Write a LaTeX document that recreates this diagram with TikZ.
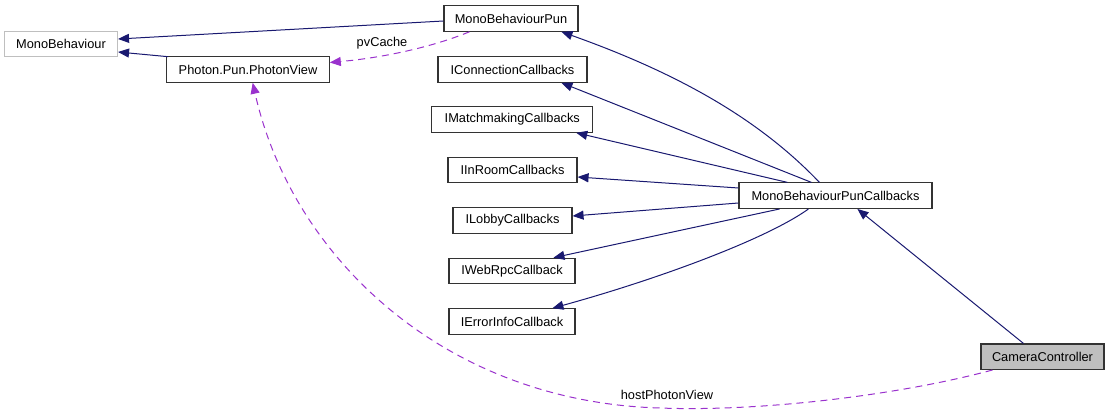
\documentclass[tikz,border=0pt]{standalone}
\usepackage{fontspec}
\setmainfont{Liberation Sans}
\usetikzlibrary{arrows.meta,calc}
\definecolor{navy}{HTML}{191970}
\definecolor{orchid}{HTML}{9A32CD}
\definecolor{boxgray}{HTML}{BFBFBF}
\definecolor{edgegray}{HTML}{333333}
\begin{document}
\begin{tikzpicture}[x=1pt,y=-1pt,
  cls/.style={draw=edgegray,line width=1.1pt,fill=white,inner sep=0pt,minimum height=25.5pt,font=\fontsize{12.8}{15}\selectfont},
  inh/.style={navy,line width=1pt,-{Triangle[length=11pt,width=9pt]}},
  uses/.style={orchid,line width=1pt,dash pattern=on 7pt off 5pt,-{Triangle[length=11pt,width=9pt]}},
  lbl/.style={font=\fontsize{12.8}{15}\selectfont,inner sep=0pt}]
\useasboundingbox (0,0) rectangle (1109,414);

% nodes
\node[cls,draw=boxgray,minimum width=113pt] (mb) at (61,44) {MonoBehaviour};
\node[cls,minimum width=134pt] (mbp) at (511,18.5) {MonoBehaviourPun};
\node[cls,minimum width=162.5pt] (pv) at (248,69.5) {Photon.Pun.PhotonView};
\node[cls,minimum width=149pt] (icc) at (512.5,69.5) {IConnectionCallbacks};
\node[cls,minimum width=161pt] (imm) at (512.3,119.5) {IMatchmakingCallbacks};
\node[cls,minimum width=129pt] (iir) at (512.5,170) {IInRoomCallbacks};
\node[cls,minimum width=119pt] (ilb) at (512.5,220.5) {ILobbyCallbacks};
\node[cls,minimum width=126pt] (iwr) at (512,271) {IWebRpcCallback};
\node[cls,minimum width=126pt] (iei) at (512,321.5) {IErrorInfoCallback};
\node[cls,minimum width=193pt] (mbpc) at (835.5,195.7) {MonoBehaviourPunCallbacks};
\node[cls,fill=boxgray,minimum width=123pt] (cc) at (1042.5,356.7) {CameraController};

% labels
\node[lbl] (lpv) at (382,43) {pvCache};
\node[lbl] (lhp) at (667,395) {hostPhotonView};

% inheritance edges
\draw[inh] ($(mbp.west)+(0,2.5)$) -- ($(mb.east)+(0,-5)$);
\draw[inh] ($(pv.north west)+(2,0.5)$) -- ($(mb.east)+(0,8)$);
\draw[inh] ($(mbpc.north west)+(81,0)$) .. controls (760,120) and (680,74) .. ($(mbp.south west)+(118,0)$);
\draw[inh] ($(mbpc.north west)+(73,0)$) -- ($(icc.south west)+(124,0)$);
\draw[inh] ($(mbpc.north west)+(49,0)$) -- ($(imm.south west)+(145,0)$);
\draw[inh] ($(mbpc.west)+(0,-7.7)$) -- ($(iir.east)+(0,7)$);
\draw[inh] ($(mbpc.west)+(0,7.3)$) -- ($(ilb.east)+(0,-4.5)$);
\draw[inh] ($(mbpc.south west)+(41,0)$) -- ($(iwr.north west)+(105,0)$);
\draw[inh] ($(mbpc.south west)+(70,0)$) .. controls (765,240) and (655,280) .. ($(iei.north west)+(104,0)$);
\draw[inh] ($(cc.north west)+(43,0)$) -- ($(mbpc.south west)+(119,0)$);

% usage edges
\draw[uses] ($(mbp.south west)+(26,0)$) .. controls (430,48) and (380,58) .. ($(pv.east)+(0,-7)$);
\draw[uses] ($(cc.south west)+(12,0)$) .. controls (900,395) and (760,412) .. (660,408)
  .. controls (445,402) and (292,258) .. ($(pv.south west)+(86.5,0)$);
\end{tikzpicture}
\end{document}
